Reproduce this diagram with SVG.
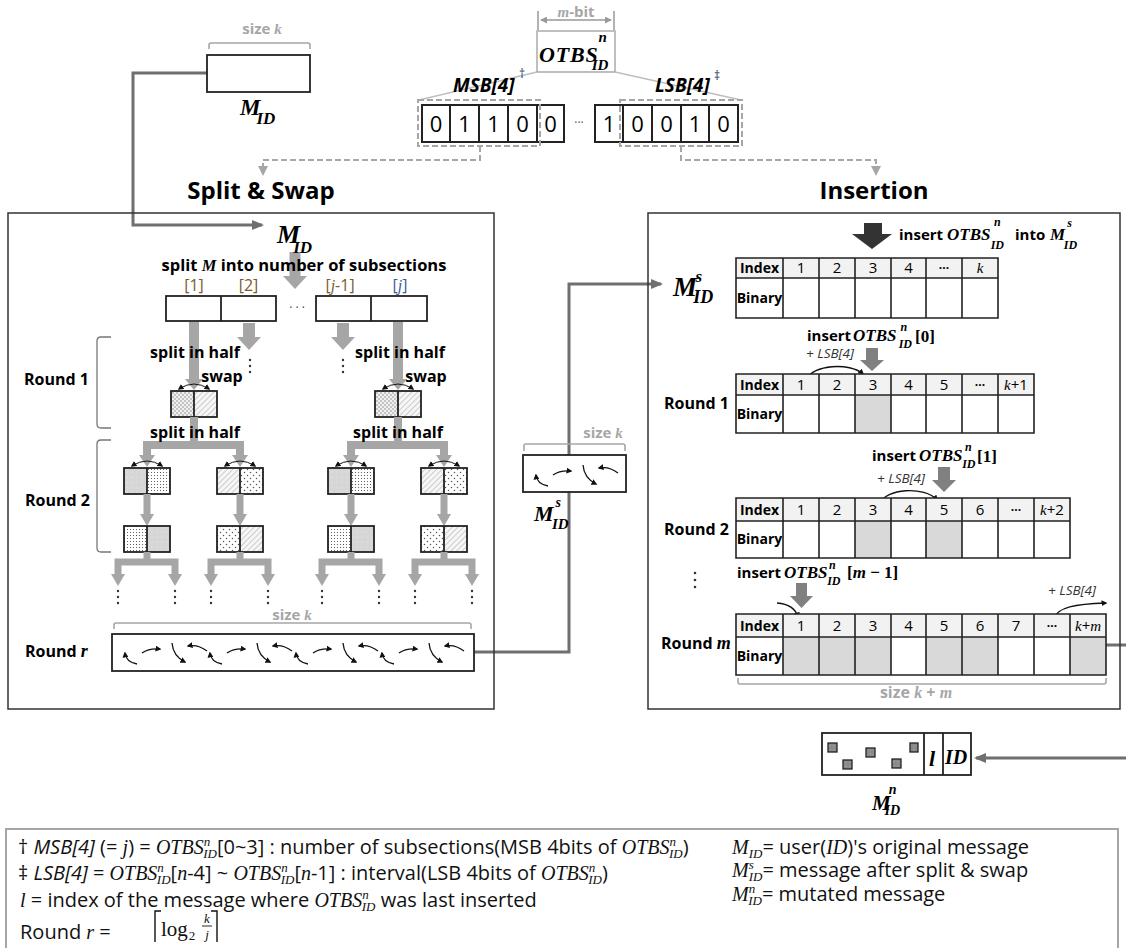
<svg xmlns="http://www.w3.org/2000/svg" width="1126" height="948" viewBox="0 0 1126 948">
<defs>
<style>
.b{font-family:"Open Sans","Liberation Sans",sans-serif;font-weight:700}
.r{font-family:"Open Sans","Liberation Sans",sans-serif;font-weight:400}
.m{font-family:"Liberation Serif","DejaVu Serif",serif;font-weight:700;font-style:italic}
.mi{font-family:"Liberation Serif","DejaVu Serif",serif;font-style:italic}
.box{fill:none;stroke:#333;stroke-width:1.5}
.grid{fill:none;stroke:#222;stroke-width:1.6}
.hd{fill:#f2f2f2}
.gr{fill:#d9d9d9}
.sbo{fill:none;stroke:#222;stroke-width:1.8}
.ga{fill:#a6a6a6}
.gs{fill:none;stroke:#a6a6a6}
.gb{fill:none;stroke:#a6a6a6;stroke-width:1.6}
.conn{fill:none;stroke:#6f6f6f;stroke-width:3}
.thin{fill:none;stroke:#111;stroke-width:1.3}
.dk{fill:#808080}
.gtx{fill:#a6a6a6}
.cell{stroke:#222;stroke-width:2;fill:#fff}
</style>
<marker id="arrG" viewBox="0 0 12 12" markerWidth="12" markerHeight="12" refX="10" refY="6" orient="auto" markerUnits="userSpaceOnUse"><path d="M0,1 L12,6 L0,11 z" fill="#6f6f6f"/></marker>
<marker id="arrD" viewBox="0 0 10 10" markerWidth="10" markerHeight="10" refX="8" refY="5" orient="auto" markerUnits="userSpaceOnUse"><path d="M0,0 L10,5 L0,10 z" fill="#a6a6a6"/></marker>
<marker id="arrK" viewBox="0 0 8 8" markerWidth="6" markerHeight="6" refX="6" refY="4" orient="auto-start-reverse" markerUnits="userSpaceOnUse"><path d="M0,0 L8,4 L0,8 z" fill="#111"/></marker>
<marker id="arrM" viewBox="0 0 8 8" markerWidth="7" markerHeight="7" refX="7" refY="4" orient="auto-start-reverse" markerUnits="userSpaceOnUse"><path d="M0,0 L8,4 L0,8 z" fill="#999"/></marker>
<pattern id="chk" width="4" height="4" patternUnits="userSpaceOnUse"><rect width="4" height="4" fill="#f0f0f0"/><rect width="2" height="2" fill="#c4c4c4"/><rect x="2" y="2" width="2" height="2" fill="#c4c4c4"/></pattern>
<pattern id="hat" width="4" height="4" patternUnits="userSpaceOnUse" patternTransform="rotate(45)"><rect width="4" height="4" fill="#f6f6f6"/><line x1="0" y1="0" x2="0" y2="4" stroke="#9a9a9a" stroke-width="0.9"/></pattern>
<pattern id="gdot" width="5" height="5" patternUnits="userSpaceOnUse"><rect width="5" height="5" fill="#d6d6d6"/><circle cx="2" cy="2" r="0.5" fill="#f2f2f2"/></pattern>
<pattern id="ddot" width="3" height="3" patternUnits="userSpaceOnUse"><rect width="3" height="3" fill="#fff"/><circle cx="1.5" cy="1.5" r="0.55" fill="#444"/></pattern>
<pattern id="sdot" width="6" height="6" patternUnits="userSpaceOnUse"><rect width="6" height="6" fill="#fff"/><circle cx="1.5" cy="1.5" r="0.75" fill="#555"/><circle cx="4.5" cy="4.5" r="0.75" fill="#555"/></pattern>
<pattern id="sq" width="4" height="4" patternUnits="userSpaceOnUse"><rect width="4" height="4" fill="#8a8a8a"/><circle cx="2" cy="2" r="0.5" fill="#bbb"/></pattern>
<g id="quad" class="thin">
<path d="M12,21 Q1,19 0,10" marker-end="url(#arrK)"/>
<path d="M17,10 Q24,5 35,6" marker-end="url(#arrK)"/>
<path d="M47,0 Q48,13 60,19" marker-end="url(#arrK)"/>
<path d="M82,8 Q73,1 63,3" marker-end="url(#arrK)"/>
</g>
<path id="swp" d="M-15,0 Q0,-10 15,0" fill="none" stroke="#111" stroke-width="1" marker-start="url(#arrK)" marker-end="url(#arrK)"/>
</defs>
<rect width="1126" height="948" fill="#fff"/>

<!-- connectors -->
<g id="connectors">
<path class="conn" d="M207,73 H133 V225 H262" marker-end="url(#arrG)"/>
<path class="conn" d="M474,652 H569 V284 H661" marker-end="url(#arrG)"/>
<path class="conn" d="M1106,645 H1140 V758 H976" marker-end="url(#arrG)"/>
<path d="M480,146 V160 H263 V174" fill="none" stroke="#a6a6a6" stroke-width="2" stroke-dasharray="6,3" marker-end="url(#arrD)"/>
<path d="M681,146 V160 H876 V174" fill="none" stroke="#a6a6a6" stroke-width="2" stroke-dasharray="6,3" marker-end="url(#arrD)"/>
<path d="M537,72 L419,100 M615,72 L741,100" fill="none" stroke="#bfbfbf" stroke-width="1.5"/>
</g>

<!-- top M_ID -->
<g id="node-mid-top">
<text x="262" y="34" text-anchor="middle" class="b gtx" font-size="15">size <tspan class="m">k</tspan></text>
<path d="M209,49 V45 Q209,43 211,43 H308 Q310,43 310,45 V49" class="gb"/>
<rect x="207" y="55" width="103" height="37" fill="#fff" stroke="#222" stroke-width="1.8"/>
<text x="240" y="115" class="m" font-size="23">M<tspan font-size="17" dx="-4" dy="9">ID</tspan></text>
</g>

<!-- OTBS -->
<g id="node-otbs">
<text x="576" y="17" text-anchor="middle" font-size="15" class="gtx"><tspan class="m">m</tspan><tspan class="b">-bit</tspan></text>
<path d="M538,11 V30 M614,11 V30" stroke="#999" stroke-width="1.5"/>
<path d="M541,20 H611" stroke="#999" stroke-width="1.5" marker-start="url(#arrM)" marker-end="url(#arrM)"/>
<rect x="537" y="31" width="78" height="41" fill="#fff" stroke="#aaa" stroke-width="1.5"/>
<text x="539" y="62" class="m" font-size="22" letter-spacing="0.8">OTBS<tspan font-size="15" dx="0" dy="-20" letter-spacing="0">n</tspan><tspan font-size="15" dx="-15" dy="28" letter-spacing="0">ID</tspan></text>
</g>

<g id="node-bits">
<text x="453" y="92" class="b" font-style="italic" font-size="19">MSB[4]</text>
<text x="519" y="78" class="r" font-size="12" fill="#1f3864">†</text>
<text x="655" y="92" class="b" font-style="italic" font-size="19">LSB[4]</text>
<text x="714" y="80" class="r" font-size="12" fill="#1f3864">‡</text>
<rect class="cell" x="422" y="105" width="28" height="37"/>
<rect class="cell" x="450" y="105" width="29" height="37"/>
<rect class="cell" x="479" y="105" width="29" height="37"/>
<rect class="cell" x="508" y="105" width="29" height="37"/>
<rect class="cell" x="537" y="105" width="27" height="37"/>
<rect class="cell" x="595" y="105" width="28" height="37"/>
<rect class="cell" x="623" y="105" width="29" height="37"/>
<rect class="cell" x="652" y="105" width="29" height="37"/>
<rect class="cell" x="681" y="105" width="28" height="37"/>
<rect class="cell" x="709" y="105" width="29" height="37"/>
<g class="r" font-size="22" text-anchor="middle">
<text x="436" y="132">0</text><text x="464.5" y="132">1</text><text x="493.5" y="132">1</text><text x="522.5" y="132">0</text><text x="550.5" y="132">0</text>
<text x="609" y="132">1</text><text x="637.5" y="132">0</text><text x="666.5" y="132">0</text><text x="695" y="132">1</text><text x="723.5" y="132">0</text>
</g>
<text x="579" y="127" text-anchor="middle" class="r" font-size="12" fill="#555">···</text>
<rect x="418" y="100" width="122" height="46" fill="none" stroke="#a6a6a6" stroke-width="2" stroke-dasharray="6,3"/>
<rect x="620" y="100" width="122" height="46" fill="none" stroke="#a6a6a6" stroke-width="2" stroke-dasharray="6,3"/>
</g>

<g id="titles">
<text x="261" y="199" text-anchor="middle" class="b" font-size="24">Split &amp; Swap</text>
<text x="874" y="199" text-anchor="middle" class="b" font-size="24">Insertion</text>
</g>

<!-- Left box -->
<g id="node-split-swap">
<rect class="box" x="8" y="213" width="486" height="496"/>
<polygon class="ga" points="289.5,252 300.5,252 300.5,276 307,276 295,289 283,276 289.5,276"/>
<text x="277" y="243" class="m" font-size="26">M<tspan font-size="17" dx="-7" dy="10">ID</tspan></text>
<text x="304" y="271" text-anchor="middle" class="b" font-size="16.5">split <tspan class="m">M</tspan> into number of subsections</text>
<g class="r" font-size="16" text-anchor="middle" fill="#7b5b2e">
<text x="194" y="291">[1]</text><text x="248.5" y="291">[2]</text><text x="340" y="291">[<tspan class="mi">j</tspan>-1]</text>
<text x="400" y="291" fill="#3b5c9b">[<tspan class="mi">j</tspan>]</text>
</g>
<rect x="166" y="296" width="110" height="25" class="sbo" fill="#fff"/>
<line x1="221" y1="296" x2="221" y2="321" stroke="#222" stroke-width="1.8"/>
<rect x="316" y="296" width="111" height="25" class="sbo" fill="#fff"/>
<line x1="371" y1="296" x2="371" y2="321" stroke="#222" stroke-width="1.8"/>
<text x="297" y="312" text-anchor="middle" class="r" font-size="12" fill="#444">· · ·</text>

<!-- round 1 arrows -->
<polygon class="ga" points="189,322 199,322 199,379 203,379 194,390 185,379 189,379"/>
<polygon class="ga" points="393,322 403,322 403,379 407,379 398,390 389,379 393,379"/>
<polygon class="ga" points="243,323 255,323 255,337 261,337 249,350 237,337 243,337"/>
<polygon class="ga" points="337,323 349,323 349,337 355,337 343,350 331,337 337,337"/>
<g fill="#333"><circle cx="250" cy="360" r="1.2"/><circle cx="250" cy="366" r="1.2"/><circle cx="250" cy="372" r="1.2"/>
<circle cx="343" cy="360" r="1.2"/><circle cx="343" cy="366" r="1.2"/><circle cx="343" cy="372" r="1.2"/></g>
<g class="b" font-size="16" text-anchor="middle">
<text x="195" y="358">split in half</text><text x="400" y="358">split in half</text>
<text x="222" y="382">swap</text><text x="426" y="382">swap</text>
</g>
<!-- round 1 boxes -->
<rect x="171" y="391" width="23" height="26" fill="url(#chk)"/><rect x="194" y="391" width="23" height="26" fill="url(#hat)"/>
<rect x="171" y="391" width="46" height="26" class="sbo"/><line x1="194" y1="391" x2="194" y2="417" stroke="#222" stroke-width="1.8"/>
<rect x="375" y="391" width="23" height="26" fill="url(#chk)"/><rect x="398" y="391" width="23" height="26" fill="url(#hat)"/>
<rect x="375" y="391" width="46" height="26" class="sbo"/><line x1="398" y1="391" x2="398" y2="417" stroke="#222" stroke-width="1.8"/>
<use href="#swp" x="194" y="389"/><use href="#swp" x="398" y="389"/>

<!-- round 2 tree -->
<path class="gs" stroke-width="8" d="M194,417 V445 M147,457 V445 H240 V457 M398,417 V445 M351,457 V445 H444 V457"/>
<g class="ga">
<polygon points="139,455 155,455 147,467"/><polygon points="232,455 248,455 240,467"/>
<polygon points="343,455 359,455 351,467"/><polygon points="436,455 452,455 444,467"/>
</g>
<g class="b" font-size="16" text-anchor="middle">
<text x="195" y="438">split in half</text><text x="398" y="438">split in half</text>
</g>
<!-- round 2 top boxes -->
<rect x="124" y="468" width="23" height="26" fill="url(#gdot)"/><rect x="147" y="468" width="23" height="26" fill="url(#ddot)"/>
<rect x="217" y="468" width="23" height="26" fill="url(#hat)"/><rect x="240" y="468" width="23" height="26" fill="url(#sdot)"/>
<rect x="328" y="468" width="23" height="26" fill="url(#gdot)"/><rect x="351" y="468" width="23" height="26" fill="url(#ddot)"/>
<rect x="421" y="468" width="23" height="26" fill="url(#hat)"/><rect x="444" y="468" width="23" height="26" fill="url(#sdot)"/>
<g class="sbo">
<rect x="124" y="468" width="46" height="26"/><rect x="217" y="468" width="46" height="26"/><rect x="328" y="468" width="46" height="26"/><rect x="421" y="468" width="46" height="26"/>
<path d="M147,468 V494 M240,468 V494 M351,468 V494 M444,468 V494"/>
</g>
<use href="#swp" x="147" y="466"/><use href="#swp" x="240" y="466"/><use href="#swp" x="351" y="466"/><use href="#swp" x="444" y="466"/>
<!-- round 2 mid arrows -->
<path class="gs" stroke-width="7" d="M147,494 V516 M240,494 V516 M351,494 V516 M444,494 V516"/>
<g class="ga">
<polygon points="140,514 154,514 147,526"/><polygon points="233,514 247,514 240,526"/>
<polygon points="344,514 358,514 351,526"/><polygon points="437,514 451,514 444,526"/>
</g>
<!-- round 2 bottom boxes -->
<rect x="124" y="526" width="23" height="26" fill="url(#ddot)"/><rect x="147" y="526" width="23" height="26" fill="url(#gdot)"/>
<rect x="217" y="526" width="23" height="26" fill="url(#sdot)"/><rect x="240" y="526" width="23" height="26" fill="url(#hat)"/>
<rect x="328" y="526" width="23" height="26" fill="url(#ddot)"/><rect x="351" y="526" width="23" height="26" fill="url(#gdot)"/>
<rect x="421" y="526" width="23" height="26" fill="url(#sdot)"/><rect x="444" y="526" width="23" height="26" fill="url(#hat)"/>
<g class="sbo">
<rect x="124" y="526" width="46" height="26"/><rect x="217" y="526" width="46" height="26"/><rect x="328" y="526" width="46" height="26"/><rect x="421" y="526" width="46" height="26"/>
<path d="M147,526 V552 M240,526 V552 M351,526 V552 M444,526 V552"/>
</g>
<!-- forks -->
<path class="gs" stroke-width="7" d="M147,552 V562 M118,576 V562 H175 V576 M240,552 V562 M211,576 V562 H268 V576 M351,552 V562 M322,576 V562 H379 V576 M444,552 V562 M415,576 V562 H472 V576"/>
<g class="ga">
<polygon points="111,574 125,574 118,586"/><polygon points="168,574 182,574 175,586"/>
<polygon points="204,574 218,574 211,586"/><polygon points="261,574 275,574 268,586"/>
<polygon points="315,574 329,574 322,586"/><polygon points="372,574 386,574 379,586"/>
<polygon points="408,574 422,574 415,586"/><polygon points="465,574 479,574 472,586"/>
</g>
<g fill="#333">
<circle cx="118" cy="591" r="1.2"/><circle cx="118" cy="597" r="1.2"/><circle cx="118" cy="603" r="1.2"/>
<circle cx="175" cy="591" r="1.2"/><circle cx="175" cy="597" r="1.2"/><circle cx="175" cy="603" r="1.2"/>
<circle cx="211" cy="591" r="1.2"/><circle cx="211" cy="597" r="1.2"/><circle cx="211" cy="603" r="1.2"/>
<circle cx="268" cy="591" r="1.2"/><circle cx="268" cy="597" r="1.2"/><circle cx="268" cy="603" r="1.2"/>
<circle cx="322" cy="591" r="1.2"/><circle cx="322" cy="597" r="1.2"/><circle cx="322" cy="603" r="1.2"/>
<circle cx="379" cy="591" r="1.2"/><circle cx="379" cy="597" r="1.2"/><circle cx="379" cy="603" r="1.2"/>
<circle cx="415" cy="591" r="1.2"/><circle cx="415" cy="597" r="1.2"/><circle cx="415" cy="603" r="1.2"/>
<circle cx="472" cy="591" r="1.2"/><circle cx="472" cy="597" r="1.2"/><circle cx="472" cy="603" r="1.2"/>
</g>
<!-- round labels + brackets -->
<g class="b" font-size="16">
<text x="24" y="385">Round 1</text>
<text x="25" y="506">Round 2</text>
<text x="25" y="657">Round <tspan class="m" font-size="18">r</tspan></text>
</g>
<path d="M111,337 H101 Q97,337 97,341 V424 Q97,428 101,428 H111 M111,440 H101 Q97,440 97,444 V548 Q97,552 101,552 H111" fill="none" stroke="#777" stroke-width="1.3"/>
<!-- round r -->
<text x="292" y="620" text-anchor="middle" class="b gtx" font-size="15">size <tspan class="m">k</tspan></text>
<path d="M114,629 V625 Q114,623 116,623 H469 Q471,623 471,625 V629" class="gb"/>
<rect x="112" y="634" width="362" height="37" fill="#fff" stroke="#222" stroke-width="1.8"/>
<use href="#quad" transform="translate(125,643)"/>
<use href="#quad" transform="translate(210,643)"/>
<use href="#quad" transform="translate(296,643)"/>
<use href="#quad" transform="translate(382,643)"/>
</g>

<!-- middle M_ID^s -->
<g id="node-mids-mid">
<text x="603" y="438" text-anchor="middle" class="b gtx" font-size="15">size <tspan class="m">k</tspan></text>
<path d="M524,451 V446 Q524,444 526,444 H623 Q625,444 625,446 V451" class="gb"/>
<rect x="523" y="455" width="103" height="37" fill="#fff" stroke="#222" stroke-width="1.8"/>
<use href="#quad" transform="translate(536,465)"/>
<text x="534" y="521" class="m" font-size="22">M<tspan font-size="14" dx="2" dy="-14">s</tspan><tspan font-size="15" dx="-9" dy="22">ID</tspan></text>
</g>

<!-- Right box -->
<g id="node-insertion">
<rect class="box" x="648" y="213" width="472" height="496"/>
<polygon fill="#333" points="864,223 882,223 882,234 892,234 872,249 852,234 864,234"/>
<text x="899" y="240" class="b" font-size="15">insert</text>
<text x="947" y="240" class="m" font-size="17">OTBS<tspan font-size="12" dx="3.5" dy="-14">n</tspan><tspan font-size="12" dx="-10" dy="23">ID</tspan></text>
<text x="1015" y="240" class="b" font-size="15">into</text>
<text x="1050" y="240" class="m" font-size="17">M<tspan font-size="12" dx="2" dy="-13">s</tspan><tspan font-size="12" dx="-8" dy="22">ID</tspan></text>

<text x="673" y="296" class="m" font-size="27">M<tspan font-size="17" dx="-1.5" dy="-14">s</tspan><tspan font-size="18" dx="-9" dy="21">ID</tspan></text>

<!-- table 0 -->
<rect class="hd" x="736" y="258" width="262" height="20"/>
<rect fill="#fff" x="736" y="278" width="262" height="40"/>
<path class="grid" d="M736,258 H998 V318 H736 Z M736,278 H998 M783,258 V318 M819,258 V318 M855,258 V318 M891,258 V318 M926,258 V318 M962,258 V318"/>
<g class="r" font-size="15" text-anchor="middle">
<text x="759.5" y="273" class="b" font-size="14">Index</text><text x="801" y="273">1</text><text x="837" y="273">2</text><text x="873" y="273">3</text><text x="908.5" y="273">4</text><text x="944" y="272" class="b" font-size="12">···</text><text x="980" y="273" class="mi">k</text>
<text x="759.5" y="303" class="b" font-size="14">Binary</text>
</g>

<!-- insert [0] -->
<text x="807" y="341" class="b" font-size="15">insert</text>
<text x="853" y="341" class="m" font-size="17">OTBS<tspan font-size="12" dx="4" dy="-10">n</tspan><tspan font-size="12" dx="-8.5" dy="17">ID</tspan><tspan font-style="normal" dx="3" dy="-6">[0]</tspan></text>
<polygon class="dk" points="866,348 878,348 878,360 884,360 872,371 860,360 866,360"/>
<text x="806" y="358" class="r" font-style="italic" font-size="13.5" fill="#333">+ LSB[4]</text>
<path class="thin" stroke-width="1" d="M807,379 C812,365 850,362 863,374" marker-end="url(#arrK)"/>

<!-- table 1 -->
<text x="664" y="409" class="b" font-size="16">Round 1</text>
<rect class="hd" x="736" y="374" width="298" height="21"/>
<rect fill="#fff" x="736" y="395" width="298" height="38"/>
<rect class="gr" x="855" y="395" width="36" height="38"/>
<path class="grid" d="M736,374 H1034 V433 H736 Z M736,395 H1034 M783,374 V433 M819,374 V433 M855,374 V433 M891,374 V433 M926,374 V433 M962,374 V433 M998,374 V433"/>
<g class="r" font-size="15" text-anchor="middle">
<text x="759.5" y="390" class="b" font-size="14">Index</text><text x="801" y="390">1</text><text x="837" y="390">2</text><text x="873" y="390">3</text><text x="908.5" y="390">4</text><text x="944" y="390">5</text><text x="980" y="389" class="b" font-size="12">···</text><text x="1016" y="390"><tspan class="mi">k</tspan>+1</text>
<text x="759.5" y="419" class="b" font-size="14">Binary</text>
</g>

<!-- insert [1] -->
<text x="872" y="461" class="b" font-size="15">insert</text>
<text x="919" y="461" class="m" font-size="17">OTBS<tspan font-size="12" dx="2.5" dy="-10">n</tspan><tspan font-size="12" dx="-9.5" dy="17">ID</tspan><tspan font-style="normal" dx="1.5" dy="-6">[1]</tspan></text>
<polygon class="dk" points="938,467 950,467 950,480 956,480 944,492 932,480 938,480"/>
<text x="877" y="483" class="r" font-style="italic" font-size="13.5" fill="#333">+ LSB[4]</text>
<path class="thin" stroke-width="1" d="M880,504 C885,488 925,486 937,500" marker-end="url(#arrK)"/>

<!-- table 2 -->
<text x="664" y="535" class="b" font-size="16">Round 2</text>
<rect class="hd" x="736" y="498" width="334" height="23"/>
<rect fill="#fff" x="736" y="521" width="334" height="37"/>
<rect class="gr" x="855" y="521" width="36" height="37"/>
<rect class="gr" x="926" y="521" width="36" height="37"/>
<path class="grid" d="M736,498 H1070 V558 H736 Z M736,521 H1070 M783,498 V558 M819,498 V558 M855,498 V558 M891,498 V558 M926,498 V558 M962,498 V558 M998,498 V558 M1034,498 V558"/>
<g class="r" font-size="15" text-anchor="middle">
<text x="759.5" y="515" class="b" font-size="14">Index</text><text x="801" y="515">1</text><text x="837" y="515">2</text><text x="873" y="515">3</text><text x="908.5" y="515">4</text><text x="944" y="515">5</text><text x="980" y="515">6</text><text x="1016" y="514" class="b" font-size="12">···</text><text x="1052" y="515"><tspan class="mi">k</tspan>+2</text>
<text x="759.5" y="544" class="b" font-size="14">Binary</text>
</g>

<g fill="#333"><circle cx="695" cy="573" r="1.3"/><circle cx="695" cy="580" r="1.3"/><circle cx="695" cy="587" r="1.3"/></g>

<!-- insert [m-1] -->
<text x="737" y="578" class="b" font-size="15">insert</text>
<text x="784" y="578" class="m" font-size="17">OTBS<tspan font-size="12" dx="1.5" dy="-9">n</tspan><tspan font-size="12" dx="-8.5" dy="16">ID</tspan><tspan font-style="normal" dx="6.5" dy="-7">[<tspan font-style="italic">m</tspan> − 1]</tspan></text>
<polygon class="dk" points="796,583 807,583 807,596 813,596 801.5,608 790,596 796,596"/>
<path class="thin" stroke-width="1" d="M777,603 C790,604 796,610 798,617" marker-end="url(#arrK)"/>
<text x="1048" y="595" class="r" font-style="italic" font-size="13.5" fill="#333">+ LSB[4]</text>
<path class="thin" stroke-width="1" d="M1053,619 C1058,607 1075,604 1106,603" marker-end="url(#arrK)"/>

<!-- table 3 -->
<text x="661" y="649" class="b" font-size="16">Round <tspan class="m" font-size="18">m</tspan></text>
<rect class="hd" x="736" y="614" width="370" height="23"/>
<rect fill="#fff" x="736" y="637" width="370" height="38"/>
<g class="gr">
<rect x="783" y="637" width="36" height="38"/><rect x="819" y="637" width="36" height="38"/><rect x="855" y="637" width="36" height="38"/>
<rect x="926" y="637" width="36" height="38"/><rect x="962" y="637" width="36" height="38"/><rect x="1070" y="637" width="36" height="38"/>
</g>
<path class="grid" d="M736,614 H1106 V675 H736 Z M736,637 H1106 M783,614 V675 M819,614 V675 M855,614 V675 M891,614 V675 M926,614 V675 M962,614 V675 M998,614 V675 M1034,614 V675 M1070,614 V675"/>
<g class="r" font-size="15" text-anchor="middle">
<text x="759.5" y="631" class="b" font-size="14">Index</text><text x="801" y="631">1</text><text x="837" y="631">2</text><text x="873" y="631">3</text><text x="908.5" y="631">4</text><text x="944" y="631">5</text><text x="980" y="631">6</text><text x="1016" y="631">7</text><text x="1052" y="630" class="b" font-size="12">···</text><text x="1088" y="631"><tspan class="mi">k</tspan>+<tspan class="mi">m</tspan></text>
<text x="759.5" y="661" class="b" font-size="14">Binary</text>
</g>
<path d="M738,678 V682 Q738,684 740,684 H1104 Q1106,684 1106,682 V678" class="gb"/>
<text x="916" y="698" text-anchor="middle" class="b gtx" font-size="16">size <tspan class="m">k</tspan> + <tspan class="m">m</tspan></text>
</g>

<!-- M_ID^n -->
<g id="node-midn">
<rect x="822" y="733" width="149" height="42" fill="#fff" stroke="#222" stroke-width="1.8"/>
<path d="M924,733 V775 M943,733 V775" stroke="#222" stroke-width="1.8"/>
<g fill="url(#sq)" stroke="#222" stroke-width="1.3">
<rect x="828" y="743" width="9" height="9"/><rect x="843" y="760" width="9" height="9"/><rect x="866" y="748" width="9" height="9"/>
<rect x="892" y="759" width="9" height="9"/><rect x="910" y="743" width="8" height="9"/>
</g>
<text x="929" y="766" class="m" font-size="22">l</text>
<text x="945" y="764" class="m" font-size="20">ID</text>
<text x="872" y="810" class="m" font-size="21">M<tspan font-size="14" dx="-2" dy="-16">n</tspan><tspan font-size="14" dx="-12" dy="21">ID</tspan></text>
</g>

<!-- Legend -->
<g id="legend">
<rect x="6" y="829" width="1112" height="125" fill="none" stroke="#a6a6a6" stroke-width="2"/>
<g class="r" font-size="20" fill="#111">
<text x="18" y="854">† <tspan font-style="italic">MSB[4]</tspan> (= <tspan class="mi">j</tspan>) = <tspan class="mi">OTBS</tspan><tspan class="mi" font-size="13" dy="-8">n</tspan><tspan class="mi" font-size="13" dx="-7" dy="12">ID</tspan><tspan dy="-4">[0~3] : number of subsections(MSB 4bits of </tspan><tspan class="mi">OTBS</tspan><tspan class="mi" font-size="13" dy="-8">n</tspan><tspan class="mi" font-size="13" dx="-7" dy="12">ID</tspan><tspan dy="-4">)</tspan></text>
<text x="18" y="880">‡ <tspan font-style="italic">LSB[4]</tspan> = <tspan class="mi">OTBS</tspan><tspan class="mi" font-size="13" dy="-8">n</tspan><tspan class="mi" font-size="13" dx="-7" dy="12">ID</tspan><tspan dy="-4">[</tspan><tspan class="mi">n</tspan>-4] ~ <tspan class="mi">OTBS</tspan><tspan class="mi" font-size="13" dy="-8">n</tspan><tspan class="mi" font-size="13" dx="-7" dy="12">ID</tspan><tspan dy="-4">[</tspan><tspan class="mi">n</tspan>-1] : interval(LSB 4bits of <tspan class="mi">OTBS</tspan><tspan class="mi" font-size="13" dy="-8">n</tspan><tspan class="mi" font-size="13" dx="-7" dy="12">ID</tspan><tspan dy="-4">)</tspan></text>
<text x="20" y="907"><tspan class="mi">l</tspan> = index of the message where <tspan class="mi">OTBS</tspan><tspan class="mi" font-size="13" dy="-8">n</tspan><tspan class="mi" font-size="13" dx="-7" dy="12">ID</tspan><tspan dy="-4"> was last inserted</tspan></text>
<text x="20" y="939">Round <tspan class="mi">r</tspan> = </text>
<path d="M155,942 V911 H161 M217,942 V911 H211" fill="none" stroke="#111" stroke-width="1.4"/>
<text x="161" y="936" font-family="Liberation Serif,serif" font-size="21">log<tspan font-size="13" dx="1" dy="4">2</tspan></text>
<text x="207" y="923" class="mi" font-size="13" text-anchor="middle">k</text>
<line x1="202" y1="926" x2="212" y2="926" stroke="#111" stroke-width="0.9"/>
<text x="207" y="939" class="mi" font-size="13" text-anchor="middle">j</text>
<text x="732" y="854"><tspan class="mi" font-size="20">M</tspan><tspan class="mi" font-size="13" dy="4">ID</tspan><tspan dy="-4">= user(</tspan><tspan class="mi">ID</tspan>)'s original message</text>
<text x="732" y="877"><tspan class="mi" font-size="20">M</tspan><tspan class="mi" font-size="13" dy="-8">s</tspan><tspan class="mi" font-size="13" dx="-5" dy="12">ID</tspan><tspan dy="-4">= message after split &amp; swap</tspan></text>
<text x="732" y="901"><tspan class="mi" font-size="20">M</tspan><tspan class="mi" font-size="13" dy="-8">n</tspan><tspan class="mi" font-size="13" dx="-7" dy="12">ID</tspan><tspan dy="-4">= mutated message</tspan></text>
</g>
</g>
</svg>
